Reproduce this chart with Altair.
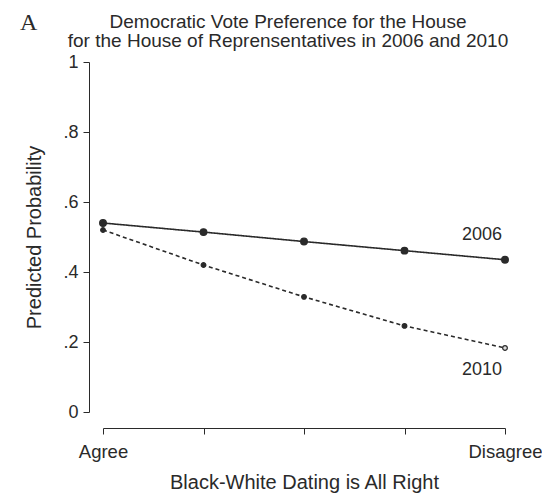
import altair as alt
import pandas as pd

positions = [0, 1, 2, 3, 4]
p2006 = [0.540, 0.514, 0.487, 0.461, 0.435]
p2010 = [0.520, 0.420, 0.329, 0.246, 0.183]
years = ["2006", "2010"]
title_lines = ["Democratic Vote Preference for the House",
               "for the House of Reprensentatives in 2006 and 2010"]

rows = []
for i, x in enumerate(positions):
    rows.append({"x": x, "p": p2006[i], "year": "2006", "open": False})
    rows.append({"x": x, "p": p2010[i], "year": "2010", "open": i == len(positions) - 1})
df = pd.DataFrame(rows)

lab2006 = pd.DataFrame({"x": [positions[-1]], "p": [p2006[-1]], "year": ["2006"]})
lab2010 = pd.DataFrame({"x": [positions[-1]], "p": [p2010[-1]], "year": ["2010"]})

FONT = "Liberation Sans"
INK = "#2a2a2a"

xscale = alt.Scale(domain=[0, 4], nice=False, zero=False)
yscale = alt.Scale(domain=[0, 1], nice=False)

xenc = alt.X("x:Q", scale=xscale, axis=alt.Axis(
    values=positions, title="Black-White Dating is All Right",
    labelExpr="datum.value == 0 ? 'Agree' : (datum.value == 4 ? 'Disagree' : '')",
    grid=False, offset=16, tickSize=6, domainColor=INK, tickColor=INK,
    labelColor=INK, titleColor=INK, labelFont=FONT, titleFont=FONT,
    labelFontSize=18.5, titleFontSize=20, titleFontWeight="normal",
    labelPadding=8, titlePadding=12, labelFlush=False))
yenc = alt.Y("p:Q", scale=yscale, axis=alt.Axis(
    values=[0, 0.2, 0.4, 0.6, 0.8, 1], title="Predicted Probability",
    labelExpr="datum.value == 0 ? '0' : (datum.value == 1 ? '1' : replace(format(datum.value, '.1f'), '0.', '.'))",
    grid=False, offset=14, tickSize=6, domainColor=INK, tickColor=INK,
    labelColor=INK, titleColor=INK, labelFont=FONT, titleFont=FONT,
    labelFontSize=18, titleFontSize=20, titleFontWeight="normal",
    labelPadding=5, titlePadding=18, labelFlush=False))

dash = alt.Scale(domain=years, range=[[1, 0], [4, 3]])

lines = alt.Chart(df).mark_line(color=INK, strokeWidth=1.6).encode(
    x=xenc, y=yenc,
    strokeDash=alt.StrokeDash("year:N", scale=dash, legend=None),
    detail="year:N",
)

pts = alt.Chart(df).mark_point(filled=False, strokeWidth=1.2, stroke=INK, opacity=1).encode(
    x="x:Q", y="p:Q",
    size=alt.Size("year:N", scale=alt.Scale(domain=years, range=[45, 22]), legend=None),
    fill=alt.Fill("open:N", scale=alt.Scale(domain=[False, True], range=[INK, "#dddddd"]), legend=None),
)

txt1 = alt.Chart(lab2006).mark_text(font=FONT, fontSize=18, color=INK, dx=-23, dy=-25).encode(
    x="x:Q", y="p:Q", text="year:N")
txt2 = alt.Chart(lab2010).mark_text(font=FONT, fontSize=18, color=INK, dx=-23, dy=22).encode(
    x="x:Q", y="p:Q", text="year:N")

letter = alt.Chart(pd.DataFrame({"t": ["A"]})).mark_text(
    font="Liberation Serif", fontSize=24, color=INK, align="left", baseline="alphabetic"
).encode(x=alt.value(-83), y=alt.value(-32), text="t:N")

t1 = alt.Chart(pd.DataFrame({"t": [title_lines[0]]})).mark_text(
    font=FONT, fontSize=19, color=INK, align="center", baseline="alphabetic"
).encode(x=alt.value(185), y=alt.value(-34), text="t:N")
t2 = alt.Chart(pd.DataFrame({"t": [title_lines[1]]})).mark_text(
    font=FONT, fontSize=19, color=INK, align="center", baseline="alphabetic"
).encode(x=alt.value(185), y=alt.value(-15), text="t:N")

chart = alt.layer(lines, pts, txt1, txt2, letter, t1, t2).properties(
    width=402, height=350,
    autosize=alt.AutoSizeParams(type="none"),
    padding={"left": 95, "top": 54, "right": 37, "bottom": 82},
).configure_view(stroke=None)

chart.save("out.html", embed_options={"renderer": "svg", "actions": False})
